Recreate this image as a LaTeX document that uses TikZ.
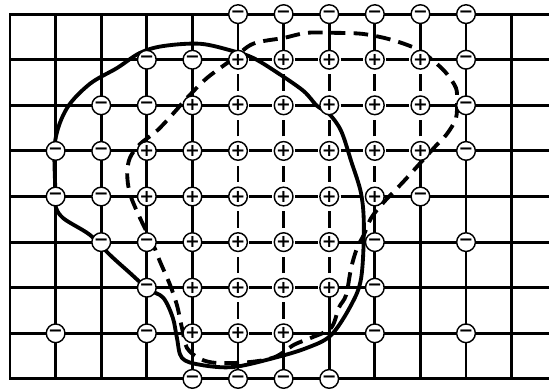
\documentclass[tikz,border=0pt]{standalone}
\usepackage{fontspec}
\usepackage{tikz}
\newfontfamily\signfont{DejaVu Sans}

\begin{document}
\begin{tikzpicture}[x=1cm,y=1cm,
  gridline/.style={line width=1.8pt},
  rowflip/.style={line width=1.8pt,dash pattern=on 0.5cm off 0.5cm,dash phase=0.75cm},
  colflip/.style={line width=1.8pt,dash pattern=on 0.36cm off 0.64cm,dash phase=0.68cm},
  wall/.style={line width=2.4pt,line join=round},
  dashwall/.style={line width=2.4pt,dash pattern=on 0.32cm off 0.18cm},
  charge/.style={circle,draw,fill=white,line width=0.9pt,minimum size=0.41cm,inner sep=0pt,
    font=\signfont\bfseries\fontsize{11}{11}\selectfont}]
  \useasboundingbox (-0.22,-0.24) rectangle (11.82,8.31);
  % lattice points
  \foreach \col in {0,...,11}
    \foreach \row in {0,...,8}
      \coordinate (g-\col-\row) at (\col,\row);
  \foreach \row in {0,...,8}
    \coordinate (edge-\row) at (11.82,\row);
  % horizontal bonds
  \foreach \row in {0,...,8} {
    \foreach \col in {0,...,10} {
      \pgfmathtruncatemacro{\nextcol}{\col+1}
      \draw[gridline,line cap=rect] (g-\col-\row) -- (g-\nextcol-\row);
    }
    \draw[gridline] (g-11-\row) -- (edge-\row);
  }
  % vertical bonds
  \foreach \col in {0,...,11}
    \foreach \row in {0,...,7} {
      \pgfmathtruncatemacro{\nextrow}{\row+1}
      \draw[gridline,line cap=rect] (g-\col-\row) -- (g-\col-\nextrow);
    }
  % flipped bonds (dashed)
  \foreach \col/\row in {5/7,6/7,7/7,8/7,5/6,6/6,7/6,8/6,5/5,6/5,7/5,8/5,
                         5/4,6/4,7/4,5/3,6/3,5/2,6/2,5/1} {
    \pgfmathtruncatemacro{\nextcol}{\col+1}
    \fill[white] ([yshift=-1.2pt]g-\col-\row) rectangle ([yshift=1.2pt]g-\nextcol-\row);
    \draw[rowflip] (g-\col-\row) -- (g-\nextcol-\row);
  }
  \foreach \col/\row in {5/1,5/2,5/3,5/4,5/5,5/6,6/1,6/2,6/3,6/4,6/5,6/6,
                         7/2,7/3,7/4,7/5,7/6,8/4,8/5,8/6,9/5,9/6} {
    \pgfmathtruncatemacro{\nextrow}{\row+1}
    \fill[white] ([xshift=-1.2pt]g-\col-\row) rectangle ([xshift=1.2pt]g-\col-\nextrow);
    \draw[colflip] (g-\col-\row) -- (g-\col-\nextrow);
  }
  % domain walls
  \draw[wall] plot[smooth cycle,tension=0.55] coordinates {
    (0.99,4.19) (0.99,5.22) (1.25,5.94) (1.75,6.47) (2.35,6.82) (2.85,7.15)
    (3.36,7.30) (4.17,7.35) (4.89,7.19) (5.33,7.04) (5.81,6.75) (6.43,6.32)
    (6.73,5.99) (7.0,5.81) (7.26,5.44) (7.48,4.78) (7.70,4.06) (7.76,3.31)
    (7.70,2.21) (7.48,1.62) (7.04,0.96) (6.51,0.68) (5.79,0.46) (4.89,0.26)
    (4.17,0.31) (3.77,0.46) (3.66,0.90) (3.57,1.34) (3.36,1.78) (3.03,1.97)
    (2.6,2.35) (2.19,2.72) (1.75,3.16) (1.16,3.53) (0.99,3.82)};
  \draw[dashwall] plot[smooth cycle,tension=0.55] coordinates {
    (5.33,7.35) (4.89,7.02) (4.32,6.60) (3.88,6.16) (3.57,5.81) (3.22,5.44)
    (2.85,5.15) (2.63,4.85) (2.57,4.50) (2.63,4.06) (2.85,3.53) (3.14,2.94)
    (3.29,2.57) (3.51,2.06) (3.66,1.62) (3.77,1.12) (3.88,0.68) (4.17,0.44)
    (4.54,0.35) (5.26,0.37) (5.81,0.48) (6.23,0.75) (6.60,0.90) (7.04,1.12)
    (7.21,1.56) (7.37,1.84) (7.48,2.43) (7.61,2.87) (7.76,3.16) (7.92,3.53)
    (8.20,3.88) (8.64,4.34) (9.30,5.07) (9.58,5.37) (9.78,5.72) (9.80,6.10)
    (9.78,6.38) (9.58,6.69) (9.36,6.91) (9.01,7.19) (8.64,7.35) (8.20,7.48)
    (7.70,7.57) (7.11,7.59) (6.51,7.59) (6.01,7.48)};
  % spins
  \foreach \col/\row in {5/8,6/8,7/8,8/8,9/8,10/8,3/7,4/7,10/7,2/6,3/6,10/6,
                         1/5,2/5,10/5,1/4,2/4,9/4,2/3,3/3,8/3,10/3,3/2,8/2,
                         1/1,3/1,8/1,10/1,4/0,5/0,6/0,7/0}
    \node[charge] (minus-\col-\row) at (g-\col-\row) {−};
  \foreach \col/\row in {5/7,6/7,7/7,8/7,9/7,4/6,5/6,6/6,7/6,8/6,9/6,
                         3/5,4/5,5/5,6/5,7/5,8/5,9/5,3/4,4/4,5/4,6/4,7/4,8/4,
                         4/3,5/3,6/3,7/3,4/2,5/2,6/2,7/2,4/1,5/1,6/1}
    \node[charge] (plus-\col-\row) at (g-\col-\row) {+};
\end{tikzpicture}
\end{document}
